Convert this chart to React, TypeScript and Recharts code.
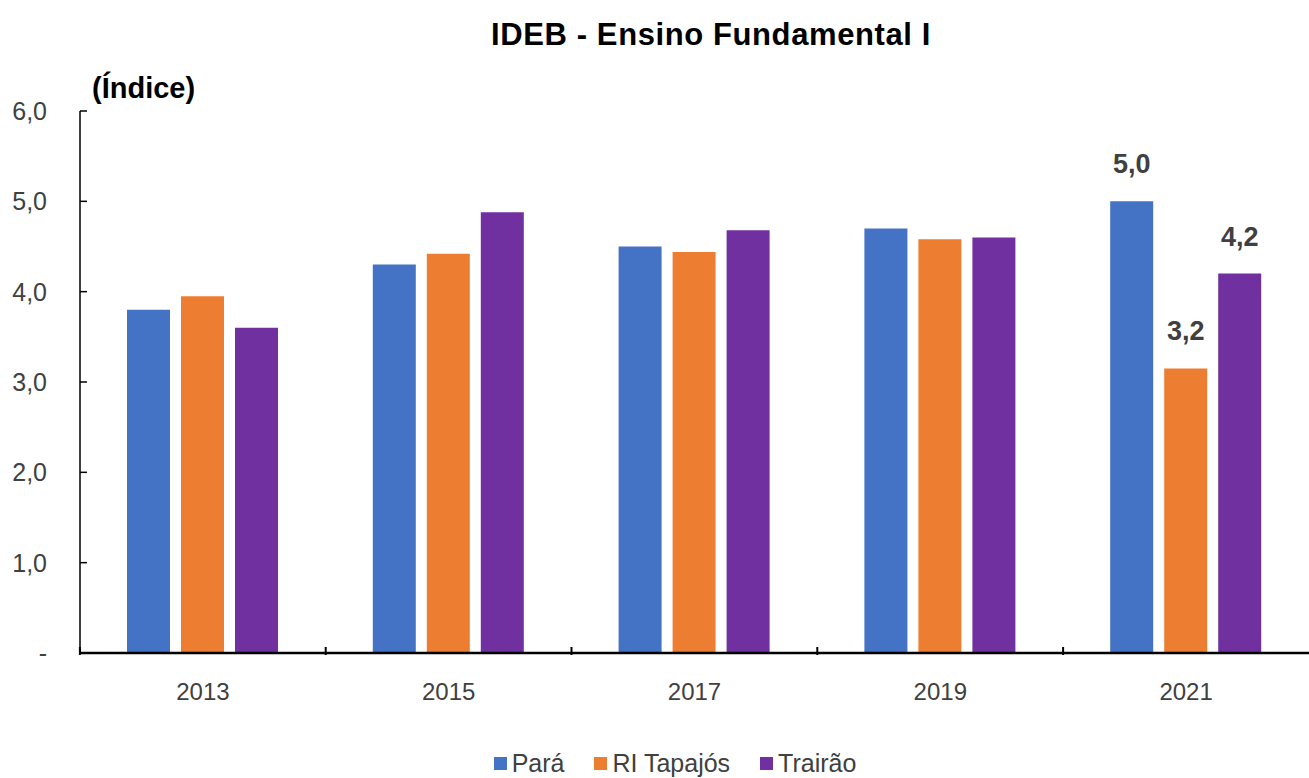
import { BarChart, Bar, XAxis, YAxis, LabelList } from "recharts";

const years = ["2013", "2015", "2017", "2019", "2021"];
const para = [3.8, 4.3, 4.5, 4.7, 5.0];
const riTapajos = [3.95, 4.42, 4.44, 4.58, 3.15];
const trairao = [3.6, 4.88, 4.68, 4.6, 4.2];
// only the last year carries a value label in the original
const paraLabels = ["", "", "", "", "5,0"];
const riLabels = ["", "", "", "", "3,2"];
const trairaoLabels = ["", "", "", "", "4,2"];
const yTicks = [0, 1, 2, 3, 4, 5, 6];

const series = [
  { key: "para", label: "paraLabel", name: "Pará", color: "#4472C4" },
  { key: "ri", label: "riLabel", name: "RI Tapajós", color: "#ED7D31" },
  { key: "trairao", label: "trairaoLabel", name: "Trairão", color: "#7030A0" },
];

const data = years.map((y, i) => ({
  year: y,
  para: para[i],
  ri: riTapajos[i],
  trairao: trairao[i],
  paraLabel: paraLabels[i],
  riLabel: riLabels[i],
  trairaoLabel: trairaoLabels[i],
}));

const FONT = "'Liberation Sans', Arial, sans-serif";
const HALF_BAND = 123;

const fmt = (v: number) => (v === 0 ? "-" : v.toFixed(1).replace(".", ","));

function YTick(props: any) {
  const { x, y, payload } = props;
  return (
    <g>
      <line x1={x + 33} x2={x + 40} y1={y} y2={y} stroke="#000" strokeWidth={1.5} />
      <text x={x} y={y} dy={9} textAnchor="end" fill="#404040" fontSize={25} fontFamily={FONT}>
        {fmt(payload.value)}
      </text>
    </g>
  );
}

function XTick(props: any) {
  const { x, y, payload } = props;
  return (
    <g>
      <line x1={x - HALF_BAND} x2={x - HALF_BAND} y1={y - 8} y2={y} stroke="#000" strokeWidth={2} />
      <text x={x} y={y + 37} dy={8} textAnchor="middle" fill="#404040" fontSize={24} fontFamily={FONT}>
        {payload.value}
      </text>
    </g>
  );
}

export default function App() {
  return (
    <div style={{ position: "absolute", left: 0, top: 0, width: 1309, height: 778, background: "#fff", fontFamily: FONT }}>
      <div style={{ position: "absolute", left: 0, top: 17, width: 1422, textAlign: "center", fontSize: 31, letterSpacing: 0.6, fontWeight: "bold", color: "#000" }}>
        IDEB - Ensino Fundamental I
      </div>
      <div style={{ position: "absolute", left: 92, top: 72, fontSize: 29, fontWeight: "bold", color: "#000" }}>
        (Índice)
      </div>
      <BarChart
        width={1309}
        height={778}
        data={data}
        margin={{ top: 111, right: 0, left: 0, bottom: 95 }}
        barSize={43}
        barGap={11}
      >
        <YAxis
          domain={[0, 6]}
          ticks={yTicks}
          width={80}
          tickSize={0}
          tickMargin={33}
          tickLine={false}
          axisLine={{ stroke: "#000", strokeWidth: 1.5 }}
          tick={<YTick />}
          interval={0}
        />
        <XAxis
          dataKey="year"
          height={30}
          tickLine={false}
          tickSize={0}
          axisLine={{ stroke: "#000", strokeWidth: 2.5 }}
          tick={<XTick />}
          interval={0}
        />
        {series.map((s) => (
          <Bar key={s.key} dataKey={s.key} name={s.name} fill={s.color} isAnimationActive={false}>
            <LabelList
              dataKey={s.label}
              position="top"
              offset={28}
              fill="#404040"
              fontSize={27}
              fontWeight="bold"
              fontFamily={FONT}
            />
          </Bar>
        ))}
      </BarChart>
      <div style={{ position: "absolute", left: 0, top: 749, width: 1350, display: "flex", justifyContent: "center", gap: 30, fontSize: 25, color: "#404040" }}>
        {series.map((s) => (
          <div key={s.key} style={{ display: "flex", alignItems: "center" }}>
            <span style={{ width: 13, height: 13, background: s.color, display: "inline-block", marginRight: 5 }} />
            {s.name}
          </div>
        ))}
      </div>
    </div>
  );
}
